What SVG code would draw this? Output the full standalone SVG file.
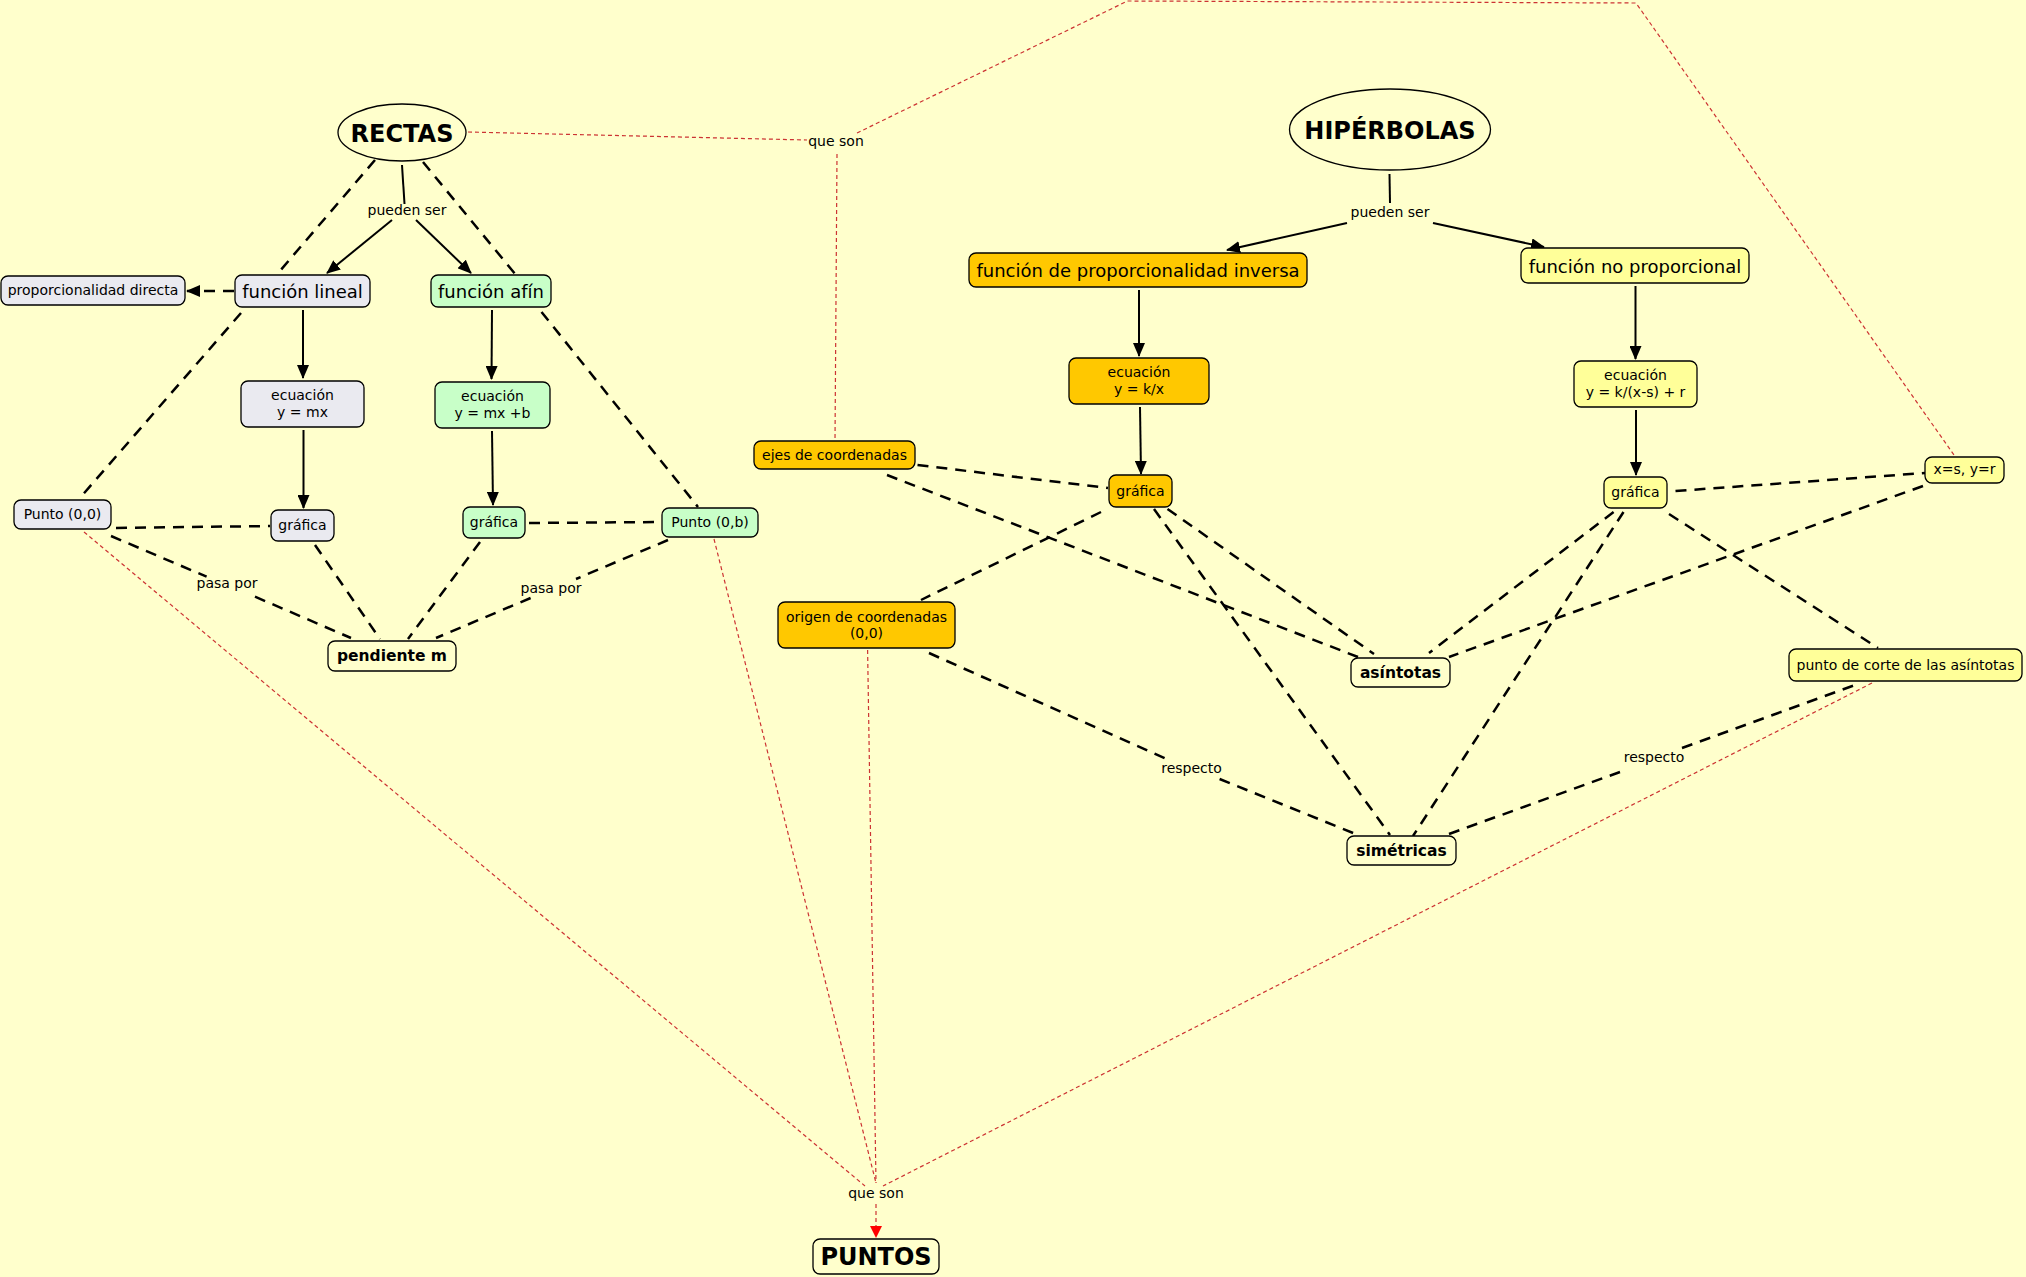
<svg xmlns="http://www.w3.org/2000/svg" width="2026" height="1277" viewBox="0 0 2026 1277">
<style>
.bg{fill:#FFFFCC}
.n{stroke:#000;stroke-width:1.3}
.plain{fill:#FFFFCC}
.grey{fill:#EAEAF0}
.green{fill:#C8FFC8}
.orange{fill:#FFC800}
.yel{fill:#FFFF99}
text{font-family:"DejaVu Sans",Verdana,sans-serif;fill:#000;text-anchor:middle}
.t14{font-size:14px}
.t18{font-size:18px}
.b16{font-size:15.5px;font-weight:bold}
.b24{font-size:24px;font-weight:bold}
.lbl{font-size:14px}
.solid{stroke:#000;stroke-width:2;fill:none}
.dash{stroke:#000;stroke-width:2.5;stroke-dasharray:11 8;fill:none}
.red{stroke:#CC3333;stroke-width:1.2;stroke-dasharray:4 3;fill:none}
</style>
<defs>
<marker id="ah" markerUnits="userSpaceOnUse" markerWidth="14" markerHeight="12" refX="13" refY="6" orient="auto">
<path d="M0,0 L14,6 L0,12 Z" fill="#000"/>
</marker>
<marker id="ahr" markerUnits="userSpaceOnUse" markerWidth="12" markerHeight="12" refX="11" refY="6" orient="auto">
<path d="M0,0 L12,6 L0,12 Z" fill="#FF0000"/>
</marker>
</defs>
<rect class="bg" x="0" y="0" width="2026" height="1277"/>

<g id="connectors">
<!-- red dotted "que son" links -->
<line class="red" x1="468" y1="132" x2="807" y2="140"/>
<polyline class="red" points="857,133 1127.5,1 1636,3 1954,455"/>
<line class="red" x1="837" y1="154" x2="835" y2="441"/>
<line class="red" x1="84" y1="532" x2="865" y2="1186"/>
<line class="red" x1="714" y1="539" x2="876" y2="1183"/>
<line class="red" x1="867.6" y1="650" x2="876" y2="1183"/>
<line class="red" x1="1872" y1="683" x2="883" y2="1186"/>
<line class="red" x1="876" y1="1204" x2="876" y2="1237" marker-end="url(#ahr)"/>

<!-- solid arrows -->
<line class="solid" x1="402" y1="165" x2="404.5" y2="204"/>
<line class="solid" x1="392" y1="220" x2="327" y2="273" marker-end="url(#ah)"/>
<line class="solid" x1="416" y1="220" x2="471" y2="273" marker-end="url(#ah)"/>
<line class="solid" x1="303" y1="310" x2="303" y2="378" marker-end="url(#ah)"/>
<line class="solid" x1="303.5" y1="430" x2="303.5" y2="508" marker-end="url(#ah)"/>
<line class="solid" x1="492" y1="310" x2="491.5" y2="379" marker-end="url(#ah)"/>
<line class="solid" x1="492" y1="431" x2="493" y2="505" marker-end="url(#ah)"/>
<line class="solid" x1="1389.5" y1="174" x2="1390" y2="203"/>
<line class="solid" x1="1347" y1="223" x2="1227" y2="250" marker-end="url(#ah)"/>
<line class="solid" x1="1433" y1="223" x2="1544" y2="247" marker-end="url(#ah)"/>
<line class="solid" x1="1139" y1="290" x2="1139" y2="356" marker-end="url(#ah)"/>
<line class="solid" x1="1140" y1="407" x2="1141" y2="474" marker-end="url(#ah)"/>
<line class="solid" x1="1635.5" y1="286" x2="1635.5" y2="359" marker-end="url(#ah)"/>
<line class="solid" x1="1636" y1="410" x2="1636" y2="475" marker-end="url(#ah)"/>

<!-- black dashed -->
<line class="dash" x1="234" y1="291" x2="187" y2="291" marker-end="url(#ah)"/>
<line class="dash" x1="375" y1="160" x2="279" y2="272"/>
<line class="dash" x1="423" y1="162" x2="516" y2="275"/>
<line class="dash" x1="241" y1="313" x2="79" y2="499"/>
<line class="dash" x1="541.5" y1="312" x2="698" y2="507"/>
<line class="dash" x1="116" y1="528" x2="270" y2="526"/>
<line class="dash" x1="529" y1="523" x2="661" y2="522"/>
<line class="dash" x1="111" y1="536" x2="206.6" y2="576.7"/>
<line class="dash" x1="255" y1="596.7" x2="351" y2="638"/>
<line class="dash" x1="668" y1="540" x2="576" y2="579"/>
<line class="dash" x1="530.6" y1="598" x2="436" y2="638"/>
<line class="dash" x1="315" y1="545" x2="380" y2="639"/>
<line class="dash" x1="480" y1="542" x2="408" y2="639"/>

<line class="dash" x1="917.5" y1="465" x2="1108" y2="488"/>
<line class="dash" x1="887" y1="475" x2="1358" y2="657"/>
<line class="dash" x1="1101" y1="512" x2="921" y2="600"/>
<line class="dash" x1="1167.5" y1="509" x2="1374" y2="654"/>
<line class="dash" x1="1154" y1="509" x2="1390" y2="835"/>
<line class="dash" x1="929" y1="653" x2="1168.6" y2="760"/>
<line class="dash" x1="1219.6" y1="779" x2="1358" y2="835"/>
<line class="dash" x1="1675.5" y1="491" x2="1925" y2="473"/>
<line class="dash" x1="1923" y1="486" x2="1449" y2="657"/>
<line class="dash" x1="1613.6" y1="512" x2="1429" y2="653"/>
<line class="dash" x1="1623.5" y1="512" x2="1413" y2="836"/>
<line class="dash" x1="1669" y1="514" x2="1878" y2="648"/>
<line class="dash" x1="1449" y1="834" x2="1620" y2="772"/>
<line class="dash" x1="1682" y1="748" x2="1855" y2="685"/>
</g>

<g id="labels">
<text class="lbl" x="407" y="214.5">pueden ser</text>
<text class="lbl" x="1390" y="216.5">pueden ser</text>
<text class="lbl" x="836" y="145.5">que son</text>
<text class="lbl" x="876" y="1197.5">que son</text>
<text class="lbl" x="227" y="587.5">pasa por</text>
<text class="lbl" x="551" y="592.5">pasa por</text>
<text class="lbl" x="1191.5" y="772.5">respecto</text>
<text class="lbl" x="1654" y="761.5">respecto</text>
</g>

<g id="n-rectas"><ellipse class="n plain" cx="402" cy="132.5" rx="64" ry="28.5"/><text class="b24" x="402" y="141.5">RECTAS</text></g>
<g id="n-hiperbolas"><ellipse class="n plain" cx="1390" cy="129.5" rx="100.5" ry="40.5"/><text class="b24" x="1390" y="138.5">HIPÉRBOLAS</text></g>
<g id="n-propdirecta"><rect class="n grey" x="1" y="276" width="184" height="29" rx="7"/><text class="t14" x="93" y="295">proporcionalidad directa</text></g>
<g id="n-funclineal"><rect class="n grey" x="235" y="275" width="135" height="32" rx="7"/><text class="t18" x="302.5" y="298">función lineal</text></g>
<g id="n-funcafin"><rect class="n green" x="431" y="275" width="120" height="32" rx="7"/><text class="t18" x="491" y="298">función afín</text></g>
<g id="n-ecmx"><rect class="n grey" x="241" y="381" width="123" height="46" rx="7"/><text class="t14" x="302.5" y="400">ecuación</text><text class="t14" x="302.5" y="417">y = mx</text></g>
<g id="n-ecmxb"><rect class="n green" x="435" y="382" width="115" height="46" rx="7"/><text class="t14" x="492.5" y="400.5">ecuación</text><text class="t14" x="492.5" y="417.5">y = mx +b</text></g>
<g id="n-grafL"><rect class="n grey" x="271" y="510" width="63" height="31" rx="7"/><text class="t14" x="302.5" y="530">gráfica</text></g>
<g id="n-grafM"><rect class="n green" x="463" y="507" width="62" height="31" rx="7"/><text class="t14" x="494" y="527">gráfica</text></g>
<g id="n-punto00"><rect class="n grey" x="14" y="500" width="97" height="29" rx="7"/><text class="t14" x="62.5" y="519">Punto (0,0)</text></g>
<g id="n-punto0b"><rect class="n green" x="662" y="508" width="96" height="29" rx="7"/><text class="t14" x="710" y="527">Punto (0,b)</text></g>
<g id="n-pendiente"><rect class="n plain" x="328" y="641" width="128" height="30" rx="7"/><text class="b16" x="392" y="660.5">pendiente m</text></g>
<g id="n-ejes"><rect class="n orange" x="754" y="441" width="161" height="28" rx="7"/><text class="t14" x="834.5" y="459.5">ejes de coordenadas</text></g>
<g id="n-funcinv"><rect class="n orange" x="969" y="253" width="338" height="34" rx="7"/><text class="t18" x="1138" y="277">función de proporcionalidad inversa</text></g>
<g id="n-eckx"><rect class="n orange" x="1069" y="358" width="140" height="46" rx="7"/><text class="t14" x="1139" y="377">ecuación</text><text class="t14" x="1139" y="394">y = k/x</text></g>
<g id="n-grafI"><rect class="n orange" x="1109" y="475" width="63" height="32" rx="7"/><text class="t14" x="1140.5" y="495.5">gráfica</text></g>
<g id="n-origen"><rect class="n orange" x="778" y="602" width="177" height="46" rx="7"/><text class="t14" x="866.5" y="621.5">origen de coordenadas</text><text class="t14" x="866.5" y="638">(0,0)</text></g>
<g id="n-funcnoprop"><rect class="n yel" x="1521" y="248" width="228" height="35" rx="7"/><text class="t18" x="1635" y="272.5">función no proporcional</text></g>
<g id="n-ecksr"><rect class="n yel" x="1574" y="361" width="123" height="46" rx="7"/><text class="t14" x="1635.5" y="379.5">ecuación</text><text class="t14" x="1635.5" y="396.5">y = k/(x-s) + r</text></g>
<g id="n-grafR"><rect class="n yel" x="1604" y="477" width="63" height="31" rx="7"/><text class="t14" x="1635.5" y="497">gráfica</text></g>
<g id="n-xsyr"><rect class="n yel" x="1925" y="457" width="79" height="26" rx="7"/><text class="t14" x="1964.5" y="474">x=s, y=r</text></g>
<g id="n-puntocorte"><rect class="n yel" x="1789" y="649" width="233" height="32" rx="7"/><text class="t14" x="1905.5" y="669.5">punto de corte de las asíntotas</text></g>
<g id="n-asintotas"><rect class="n plain" x="1351" y="658" width="99" height="29" rx="7"/><text class="b16" x="1400.5" y="677.5">asíntotas</text></g>
<g id="n-simetricas"><rect class="n plain" x="1347" y="836" width="109" height="29" rx="7"/><text class="b16" x="1401.5" y="855.5">simétricas</text></g>
<g id="n-puntos"><rect class="n plain" x="813" y="1239" width="126" height="35" rx="7"/><text class="b24" x="876" y="1265">PUNTOS</text></g>
</svg>
